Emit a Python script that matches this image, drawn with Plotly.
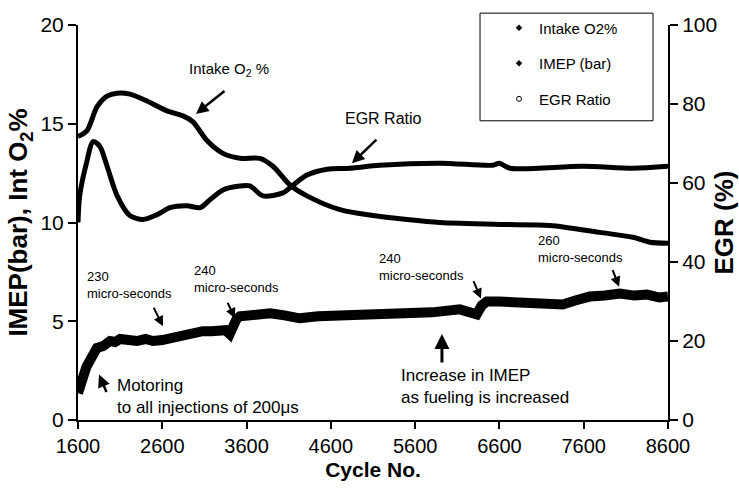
import plotly.graph_objects as go

# ---------------- data ----------------
o2_cycle = [1600, 1707, 1825, 1944, 2063, 2217, 2418, 2656, 2846, 2964, 3130, 3320,
            3522, 3759, 3913, 4115, 4316, 4708, 5099, 5503, 5894, 6606, 7199, 7792,
            8183, 8385, 8600]
o2_val = [14.35, 14.65, 15.85, 16.4, 16.55, 16.5, 16.15, 15.65, 15.4, 15.1, 14.15, 13.5,
          13.25, 13.25, 12.85, 11.9, 11.35, 10.65, 10.35, 10.15, 10.0, 9.9, 9.85, 9.5,
          9.25, 9.0, 8.95]

egr_cycle = [1600, 1620, 1700, 1780, 1860, 1945, 2065, 2215, 2370, 2540, 2690, 2890,
             3050, 3165, 3320, 3520, 3640, 3795, 4030, 4140, 4315, 4555, 4825, 5180,
             5895, 6520, 6600, 6725, 7590, 8185, 8600]
egr_val = [50.0, 56.75, 65.0, 70.5, 69.25, 64.25, 56.75, 51.75, 50.75, 52.0, 53.75, 54.25,
           53.75, 55.75, 58.25, 59.25, 59.25, 56.75, 57.5, 59.25, 62.0, 63.5, 63.75, 64.5,
           65.0, 64.5, 65.0, 63.75, 64.25, 63.75, 64.25]

imep_cycle = [1600, 1630, 1660, 1700, 1740, 1780, 1825, 1900, 1980, 2040, 2100, 2200,
              2300, 2400, 2490, 2600, 2690, 2800, 2890, 3000, 3080, 3180, 3285, 3350,
              3400, 3440, 3480, 3520, 3620, 3725, 3880, 4050, 4230, 4450, 4700, 4945,
              5200, 5540, 5800, 6130, 6250, 6330, 6390, 6450, 6600, 6800, 6960, 7150,
              7350, 7500, 7670, 7850, 8030, 8200, 8350, 8500, 8600]
imep_val = [1.35, 1.9, 2.35, 2.7, 3.0, 3.35, 3.65, 3.75, 4.0, 3.95, 4.1, 4.05,
            4.0, 4.1, 4.0, 4.05, 4.15, 4.25, 4.35, 4.4, 4.5, 4.5, 4.6, 4.55,
            4.35, 4.85, 5.1, 5.25, 5.3, 5.35, 5.4, 5.3, 5.15, 5.25, 5.3, 5.35,
            5.3, 5.35, 5.45, 5.6, 5.45, 5.35, 5.8, 6.0, 6.0, 5.95, 6.0, 5.9,
            5.85, 6.05, 6.25, 6.3, 6.4, 6.3, 6.35, 6.2, 6.25]

x_ticks = [1600, 2600, 3600, 4600, 5600, 6600, 7600, 8600]
legend_names = ["Intake O2%", "IMEP (bar)", "EGR Ratio"]

FONT = "Liberation Sans, Arial, sans-serif"

fig = go.Figure()

fig.add_trace(go.Scatter(x=o2_cycle, y=o2_val, mode="lines",
                         line=dict(color="black", width=5, shape="spline", smoothing=0.8),
                         showlegend=False, hoverinfo="skip"))
fig.add_trace(go.Scatter(x=egr_cycle, y=egr_val, mode="lines", yaxis="y2",
                         line=dict(color="black", width=5, shape="spline", smoothing=0.8),
                         showlegend=False, hoverinfo="skip"))
fig.add_trace(go.Scatter(x=imep_cycle, y=imep_val, mode="lines",
                         line=dict(color="black", width=10),
                         showlegend=False, hoverinfo="skip"))

# legend proxies (marker-only entries, as in the reference legend)
fig.add_trace(go.Scatter(x=[None], y=[None], mode="markers", name=legend_names[0],
                         legendgroup="a", marker=dict(symbol="diamond", size=5, color="black")))
fig.add_trace(go.Scatter(x=[None], y=[None], mode="markers", name=legend_names[1],
                         legendgroup="b", marker=dict(symbol="diamond", size=5, color="black")))
fig.add_trace(go.Scatter(x=[None], y=[None], mode="markers", name=legend_names[2],
                         legendgroup="c", marker=dict(symbol="circle-open", size=5,
                                                      color="black", line=dict(width=1))))

ann = []
def note(text, x, y, size, xanchor="left", yanchor="middle"):
    ann.append(dict(text=text, x=x, y=y, xref="x", yref="y", showarrow=False,
                    xanchor=xanchor, yanchor=yanchor, align="left",
                    font=dict(size=size, color="black", family=FONT)))
def arrow(x, y, ax, ay, width=2.5):
    ann.append(dict(text="", x=x, y=y, xref="x", yref="y", ax=ax, ay=ay,
                    showarrow=True, arrowhead=2, arrowsize=1.0, arrowwidth=width,
                    arrowcolor="black"))

note("Intake O<sub>2</sub> %", 2890, 17.75, 15)
arrow(3000, 15.5, 30, -24)
note("EGR Ratio", 4740, 15.25, 16)
arrow(4850, 13.0, 26, -25)
note("230<br>micro-seconds", 1683, 6.85, 13)
arrow(2608, 4.75, -10, -20, 2)
note("240<br>micro-seconds", 2950, 7.15, 13)
arrow(3462, 5.15, -8, -17, 2)
note("240<br>micro-seconds", 5147, 7.75, 13)
arrow(6380, 6.15, -8, -19, 2)
note("260<br>micro-seconds", 7033, 8.65, 13)
arrow(8020, 6.75, -7, -18, 2)
note("Increase in IMEP<br>as fueling is increased", 5408, 1.7, 17)
arrow(5918, 4.35, 0, 30, 3)
note("Motoring<br>to all injections of 200\u03bcs", 2039, 1.2, 17)
arrow(1850, 2.3, 8, 19, 2.5)

fig.update_layout(
    width=739, height=492,
    margin=dict(l=78, r=71, t=20, b=72),
    paper_bgcolor="white", plot_bgcolor="white",
    font=dict(family=FONT, color="black", size=20),
    annotations=ann,
    shapes=[dict(type="rect", xref="paper", yref="paper",
                 x0=0.6814, x1=0.9746, y0=0.7575, y1=1.03,
                 line=dict(color="black", width=1), fillcolor="rgba(0,0,0,0)")],
    legend=dict(x=0.7136, y=1.034, xanchor="left", yanchor="top",
                bgcolor="rgba(0,0,0,0)", borderwidth=0, tracegroupgap=13,
                traceorder="grouped", font=dict(size=15, family=FONT, color="black")),
    xaxis=dict(range=[1600, 8600], tickvals=x_ticks, ticktext=[str(t) for t in x_ticks],
               showgrid=False, zeroline=False, showline=True, linecolor="black",
               linewidth=2, ticks="outside", ticklen=7, tickwidth=2, tickcolor="black",
               tickfont=dict(size=20), automargin=False,
               title=dict(text="<b>Cycle No.</b>", font=dict(size=21), standoff=6)),
    yaxis=dict(range=[0, 20], tickvals=[0, 5, 10, 15, 20],
               showgrid=False, zeroline=False, showline=True, linecolor="black",
               linewidth=2, ticks="outside", ticklen=8, tickwidth=2, tickcolor="black",
               tickfont=dict(size=21), automargin=False,
               title=dict(text="<b>IMEP(bar), Int O<sub>2</sub>%</b>", font=dict(size=26),
                          standoff=5)),
    yaxis2=dict(range=[0, 100], tickvals=[0, 20, 40, 60, 80, 100], overlaying="y",
                side="right", showgrid=False, zeroline=False, showline=True,
                linecolor="black", linewidth=2, ticks="outside", ticklen=8, tickwidth=2,
                tickcolor="black", tickfont=dict(size=21), automargin=False,
                title=dict(text="<b>EGR (%)</b>", font=dict(size=26), standoff=5)),
)

fig.write_html("out.html")
